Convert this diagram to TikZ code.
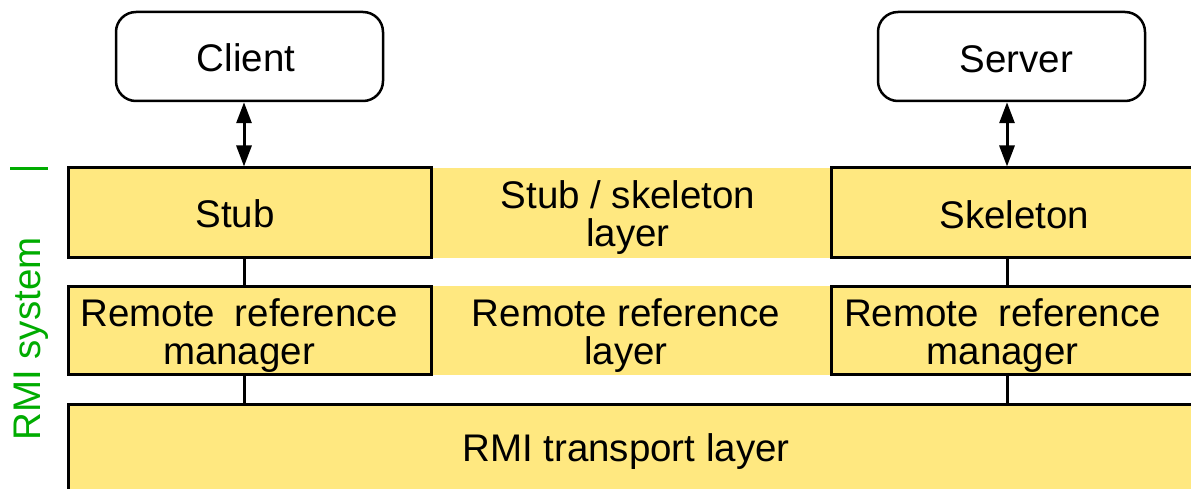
\documentclass[tikz,border=0pt]{standalone}
\usepackage{fontspec}
\setmainfont{Liberation Sans}
\usetikzlibrary{arrows.meta}
\definecolor{layeryellow}{RGB}{255,232,128}
\definecolor{rmigreen}{RGB}{0,172,0}
\newcommand\labelfont{\fontsize{38.5}{38}\selectfont}
\tikzset{
  host/.style={draw=black, line width=2.5pt, rounded corners=20pt, fill=white,
    minimum width=267pt, minimum height=89pt, inner sep=0pt},
  layerbox/.style={draw=black, line width=3pt, fill=layeryellow, inner sep=0pt},
  band/.style={fill=layeryellow, draw=none, minimum width=420pt, minimum height=89pt,
    inner sep=0pt},
  caption/.style={anchor=base, inner sep=0pt, align=center, font=\labelfont},
  link/.style={line width=3pt},
  twoway/.style={link, {Triangle[length=21pt,width=15pt]}-{Triangle[length=21pt,width=15pt]}}
}
\begin{document}
\begin{tikzpicture}[x=1pt, y=-1pt]
  \clip (0,0) rectangle (1191,489);

  % layer bands running between the two hosts
  \node[band] (sslayer) at (631,213) {};
  \node[band] (rrlayer) at (631,330.5) {};

  % hosts
  \node[host] (client) at (249.5,56.5) {};
  \node[host] (server) at (1011.5,56.5) {};

  % client-side stack
  \node[layerbox, minimum width=363pt, minimum height=89pt] (stub) at (249.5,212.5) {};
  \node[layerbox, minimum width=363pt, minimum height=88pt] (crrm) at (249.5,330) {};

  % server-side stack
  \node[layerbox, minimum width=367pt, minimum height=89pt] (skel) at (1014.5,212.5) {};
  \node[layerbox, minimum width=367pt, minimum height=88pt] (srrm) at (1014.5,330) {};

  % transport layer
  \node[layerbox, minimum width=1130pt, minimum height=91pt] (transport) at (633,449.5) {};

  % captions (base anchor = baseline of the last line)
  \node[caption] (client-t) at (246,72) {Client};
  \node[caption] (server-t) at (1016.5,72.5) {Server};
  \node[caption] (stub-t) at (235,228) {Stub};
  \node[caption] (skel-t) at (1014.5,229) {Skeleton};
  \node[caption] (sslayer-t) at (628,247) {Stub / skeleton\\layer};
  \node[caption] (rrlayer-t) at (626,364) {Remote reference\\layer};
  \node[caption] (crrm-t) at (239,364) {Remote\hspace{19.5pt}reference\\manager};
  \node[caption] (srrm-t) at (1002.5,364) {Remote\hspace{19.5pt}reference\\manager};
  \node[caption] (transport-t) at (626,461) {RMI transport layer};

  % vertical connections
  \coordinate (axL) at (244,0);
  \coordinate (axR) at (1007,0);
  \draw[twoway] (client.south -| axL) -- (stub.north -| axL);
  \draw[twoway] (server.south -| axR) -- (skel.north -| axR);
  \draw[link] (stub.south -| axL) -- (crrm.north -| axL);
  \draw[link] (crrm.south -| axL) -- (transport.north -| axL);
  \draw[link] (skel.south -| axR) -- (srrm.north -| axR);
  \draw[link] (srrm.south -| axR) -- (transport.north -| axR);

  % RMI system marker
  \draw[rmigreen, line width=3pt] (10,169) -- (48,169);
  \node[rmigreen, rotate=90, anchor=base, font=\labelfont, inner sep=0pt] (rmisys) at (40,339) {RMI system};
\end{tikzpicture}
\end{document}
